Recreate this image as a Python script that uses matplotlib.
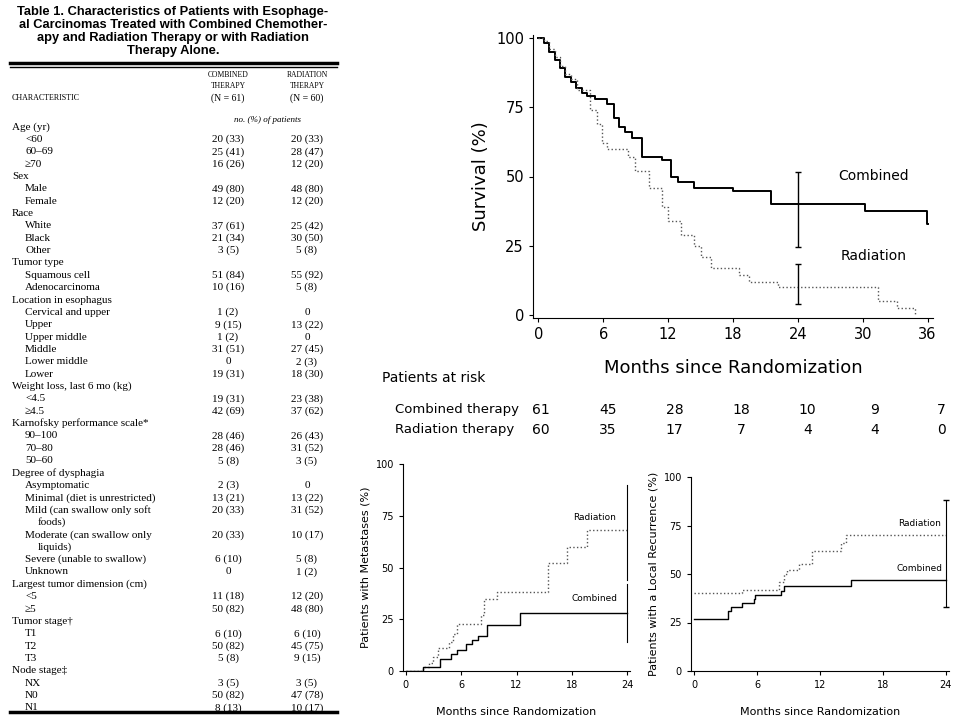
import matplotlib
matplotlib.use("Agg")
import matplotlib.pyplot as plt

# ---- table data ----
title_lines = ["Table 1. Characteristics of Patients with Esophage-",
               "al Carcinomas Treated with Combined Chemother-",
               "apy and Radiation Therapy or with Radiation",
               "Therapy Alone."]
row_labels = ["Age (yr)", "<60", "60\u201369", "\u226570", "Sex", "Male", "Female",
              "Race", "White", "Black", "Other", "Tumor type", "Squamous cell",
              "Adenocarcinoma", "Location in esophagus", "Cervical and upper", "Upper",
              "Upper middle", "Middle", "Lower middle", "Lower",
              "Weight loss, last 6 mo (kg)", "<4.5", "\u22654.5",
              "Karnofsky performance scale*", "90\u2013100", "70\u201380", "50\u201360",
              "Degree of dysphagia", "Asymptomatic", "Minimal (diet is unrestricted)",
              "Mild (can swallow only soft", "foods)", "Moderate (can swallow only",
              "liquids)", "Severe (unable to swallow)", "Unknown",
              "Largest tumor dimension (cm)", "<5", "\u22655", "Tumor stage\u2020",
              "T1", "T2", "T3", "Node stage\u2021", "NX", "N0", "N1"]
row_indent = [0, 1, 1, 1, 0, 1, 1, 0, 1, 1, 1, 0, 1, 1, 0, 1, 1, 1, 1, 1, 1, 0, 1, 1,
              0, 1, 1, 1, 0, 1, 1, 1, 2, 1, 2, 1, 1, 0, 1, 1, 0, 1, 1, 1, 0, 1, 1, 1]
combined_col = ["", "20 (33)", "25 (41)", "16 (26)", "", "49 (80)", "12 (20)", "",
                "37 (61)", "21 (34)", "3 (5)", "", "51 (84)", "10 (16)", "", "1 (2)",
                "9 (15)", "1 (2)", "31 (51)", "0", "19 (31)", "", "19 (31)", "42 (69)",
                "", "28 (46)", "28 (46)", "5 (8)", "", "2 (3)", "13 (21)", "20 (33)", "",
                "20 (33)", "", "6 (10)", "0", "", "11 (18)", "50 (82)", "", "6 (10)",
                "50 (82)", "5 (8)", "", "3 (5)", "50 (82)", "8 (13)"]
radiation_col = ["", "20 (33)", "28 (47)", "12 (20)", "", "48 (80)", "12 (20)", "",
                 "25 (42)", "30 (50)", "5 (8)", "", "55 (92)", "5 (8)", "", "0",
                 "13 (22)", "0", "27 (45)", "2 (3)", "18 (30)", "", "23 (38)", "37 (62)",
                 "", "26 (43)", "31 (52)", "3 (5)", "", "0", "13 (22)", "31 (52)", "",
                 "10 (17)", "", "5 (8)", "1 (2)", "", "12 (20)", "48 (80)", "", "6 (10)",
                 "45 (75)", "9 (15)", "", "3 (5)", "47 (78)", "10 (17)"]

# ---- survival data (step starts, months / percent) ----
surv_comb_t = [0, 0.5, 1, 1.5, 2, 2.5, 3, 3.5, 4, 4.5, 5.2, 6.3, 7, 7.5, 8, 8.7, 9.6,
               11.4, 12.3, 12.9, 14.4, 18, 21.5, 30.2, 35.9]
surv_comb_v = [100, 98, 95, 92, 89, 86, 84, 82, 80, 79, 78, 76, 71, 68, 66, 64, 57,
               56, 50, 48, 46, 44.6, 40, 37.5, 33]
surv_rad_t = [0, 0.5, 1, 1.5, 2, 2.5, 3, 3.6, 4.8, 5.4, 5.9, 6.3, 8.3, 8.9, 10.2, 11.4,
              12, 13.2, 14.4, 15, 16, 18.6, 19.5, 22.2, 31.4, 33.2, 34.8]
surv_rad_v = [100, 99, 96, 93, 90, 87, 85, 81, 74, 69, 62, 60, 57, 52, 46, 39, 34,
              29, 25, 21, 17, 14.5, 12, 10, 5, 2.7, 0]
x_ticks_surv = [0, 6, 12, 18, 24, 30, 36]
at_risk_comb = [61, 45, 28, 18, 10, 9, 7]
at_risk_rad = [60, 35, 17, 7, 4, 4, 0]

# ---- metastases ----
met_rad_t = [0, 1.9, 2.5, 2.9, 3.5, 4.7, 5.1, 5.5, 8.1, 8.5, 9.9, 15.4, 17.5, 19.6, 24]
met_rad_v = [0, 2, 4, 7, 11, 14, 18, 22.5, 27, 35, 38, 52, 60, 68, 68]
met_comb_t = [0, 1.9, 3.7, 4.9, 5.6, 6.5, 7.2, 7.8, 8.8, 12.4, 24]
met_comb_v = [0, 2, 6, 8, 10, 13, 15, 17, 22, 28, 28]

# ---- local recurrence ----
loc_rad_t = [0, 4.6, 8.1, 8.6, 8.9, 10, 11.2, 14, 14.5, 24]
loc_rad_v = [40, 42, 46, 50, 52, 55, 62, 66, 70, 70]
loc_comb_t = [0, 3.2, 3.5, 4.6, 5.7, 5.8, 8.3, 8.6, 15, 24]
loc_comb_v = [27, 31, 33, 35, 37, 39, 41, 44, 47, 47]

fig = plt.figure(figsize=(9.6, 7.2), dpi=100)
W, H = 960, 720

def fx(px):
    return px / W

def fy(py):
    return 1 - py / H

# ---- table ----
for i, line in enumerate(title_lines):
    fig.text(fx(173), fy(12 + i * 13), line, ha="center", va="center",
             fontsize=9.3, fontweight="bold", family="Liberation Sans")
fig.add_artist(plt.Line2D([fx(10), fx(337)], [fy(63), fy(63)], color="black", lw=2.5))
fig.add_artist(plt.Line2D([fx(10), fx(337)], [fy(67), fy(67)], color="black", lw=1))
fig.add_artist(plt.Line2D([fx(10), fx(337)], [fy(712), fy(712)], color="black", lw=2.5))
serif = "Liberation Serif"
for j, txt in enumerate(["COMBINED", "THERAPY", "(N = 61)"]):
    fig.text(fx(228), fy(75 + j * 11.5), txt, ha="center", va="center",
             fontsize=5.5 if j < 2 else 7, family=serif)
for j, txt in enumerate(["RADIATION", "THERAPY", "(N = 60)"]):
    fig.text(fx(307), fy(75 + j * 11.5), txt, ha="center", va="center",
             fontsize=5.5 if j < 2 else 7, family=serif)
fig.text(fx(12), fy(98), "CHARACTERISTIC", ha="left", va="center", fontsize=5.8, family=serif)
fig.text(fx(268), fy(120), "no. (%) of patients", ha="center", va="center",
         fontsize=6.5, style="italic", family=serif)
for i, lab in enumerate(row_labels):
    y = fy(127 + i * 12.36)
    fig.text(fx(12 + 13 * row_indent[i]), y, lab, ha="left", va="center",
             fontsize=8, family=serif)
    fig.text(fx(228), y, combined_col[i], ha="center", va="center", fontsize=8, family=serif)
    fig.text(fx(307), y, radiation_col[i], ha="center", va="center", fontsize=8, family=serif)

def style_ax(ax, fs):
    ax.spines["top"].set_visible(False)
    ax.spines["right"].set_visible(False)
    ax.tick_params(labelsize=fs, direction="out", length=3)

# ---- survival ----
ax = fig.add_axes([fx(533), fy(318), fx(400), 283 / H])
ax.step(surv_comb_t + [36], surv_comb_v + [surv_comb_v[-1]], where="post", color="black", lw=1.4)
ax.step(surv_rad_t, surv_rad_v, where="post", color="#555555", lw=1, linestyle=":")
ax.errorbar([24], [37.5], yerr=[[13], [14]], color="black", lw=1, capsize=2)
ax.errorbar([24], [9.5], yerr=[[5.5], [9]], color="black", lw=1, capsize=2)
ax.text(31, 50, "Combined", fontsize=10, ha="center", va="center")
ax.text(31, 21.5, "Radiation", fontsize=10, ha="center", va="center")
ax.set_xlim(-0.5, 36.5)
ax.set_ylim(-1, 101)
ax.set_xticks(x_ticks_surv)
ax.set_yticks([0, 25, 50, 75, 100])
ax.set_ylabel("Survival (%)", fontsize=13)
ax.set_xlabel("Months since Randomization", fontsize=13, labelpad=12)
style_ax(ax, 10.5)

fig.text(fx(382), fy(378), "Patients at risk", fontsize=10, va="center")
fig.text(fx(395), fy(410), "Combined therapy", fontsize=9.5, va="center")
fig.text(fx(395), fy(430), "Radiation therapy", fontsize=9.5, va="center")
for k, t in enumerate(x_ticks_surv):
    xx = fx(533 + 8 + t / 36 * 400)
    fig.text(xx, fy(410), str(at_risk_comb[k]), fontsize=10, ha="center", va="center")
    fig.text(xx, fy(430), str(at_risk_rad[k]), fontsize=10, ha="center", va="center")

# ---- metastases ----
ax2 = fig.add_axes([fx(403), fy(671), fx(227), 207 / H])
ax2.step(met_rad_t, met_rad_v, where="post", color="#555555", lw=1, linestyle=":")
ax2.step(met_comb_t, met_comb_v, where="post", color="black", lw=1)
ax2.plot([24, 24], [44, 90], color="black", lw=0.8)
ax2.plot([24, 24], [14, 42], color="black", lw=0.8)
ax2.text(20.5, 74, "Radiation", fontsize=6.5, ha="center", va="center")
ax2.text(20.5, 35, "Combined", fontsize=6.5, ha="center", va="center")
ax2.set_xlim(-0.3, 24.3)
ax2.set_ylim(0, 100)
ax2.set_xticks([0, 6, 12, 18, 24])
ax2.set_yticks([0, 25, 50, 75, 100])
ax2.set_ylabel("Patients with Metastases (%)", fontsize=8)
ax2.set_xlabel("Months since Randomization", fontsize=8, labelpad=12)
style_ax(ax2, 7)

# ---- local recurrence ----
ax3 = fig.add_axes([fx(691), fy(671), fx(258), 194 / H])
ax3.step(loc_rad_t, loc_rad_v, where="post", color="#555555", lw=1, linestyle=":")
ax3.step(loc_comb_t, loc_comb_v, where="post", color="black", lw=1)
ax3.errorbar([24], [47], yerr=[[14], [41]], color="black", lw=0.8, capsize=2)
ax3.text(21.5, 76, "Radiation", fontsize=6.5, ha="center", va="center")
ax3.text(21.5, 53, "Combined", fontsize=6.5, ha="center", va="center")
ax3.set_xlim(-0.3, 24.3)
ax3.set_ylim(0, 100)
ax3.set_xticks([0, 6, 12, 18, 24])
ax3.set_yticks([0, 25, 50, 75, 100])
ax3.set_ylabel("Patients with a Local Recurrence (%)", fontsize=8)
ax3.set_xlabel("Months since Randomization", fontsize=8, labelpad=12)
style_ax(ax3, 7)

plt.savefig("out.png", dpi=100)
